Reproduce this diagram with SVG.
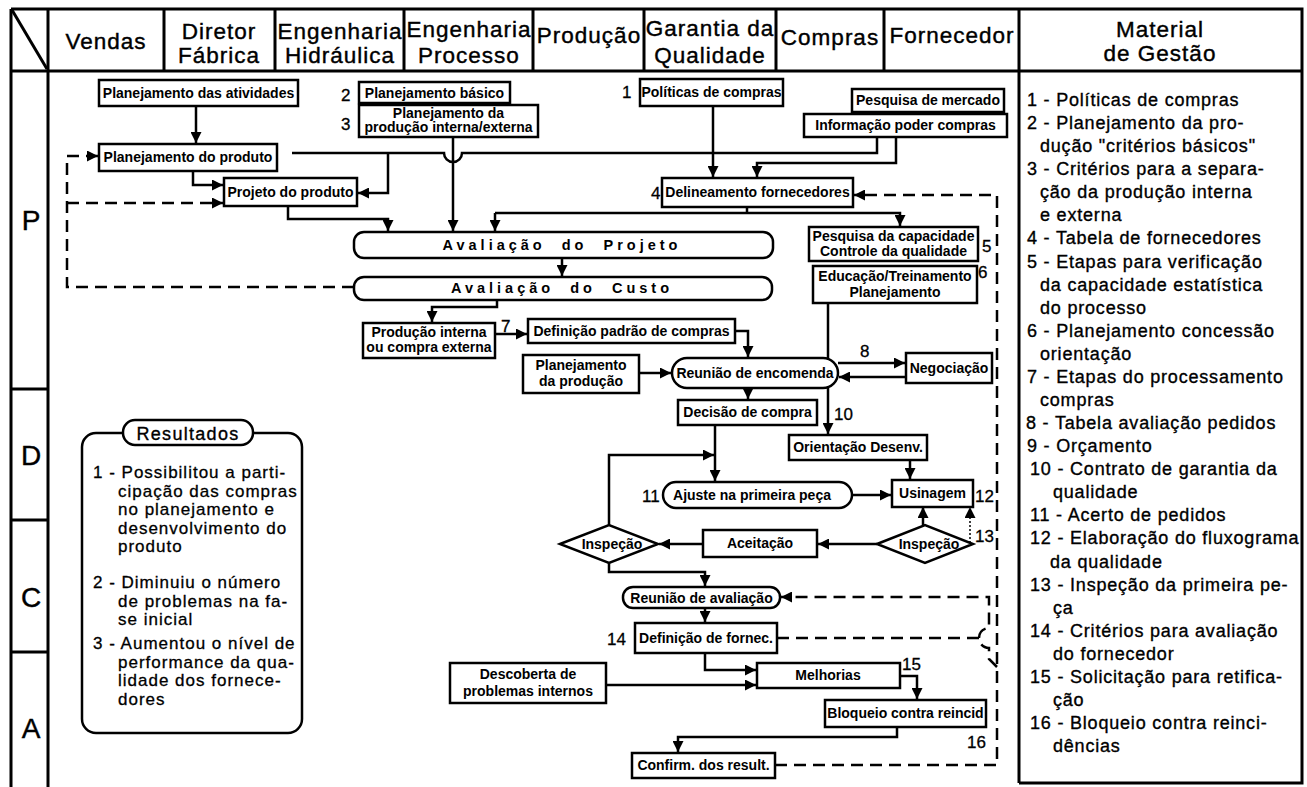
<svg xmlns="http://www.w3.org/2000/svg" width="1307" height="787" viewBox="0 0 1307 787">
  <style>
    text { font-family: "Liberation Sans", Arial, sans-serif; fill: #000; }
    .frame { fill: none; stroke: #000; stroke-width: 3; }
    .box { fill: #fff; stroke: #000; stroke-width: 2.5; }
    .ln { fill: none; stroke: #000; stroke-width: 2.5; }
    .dash { stroke-dasharray: 12 7; }
    .thin { stroke-width: 1.5; stroke-dasharray: 2 2; }
    .lbl { font-weight: bold; font-size: 14px; text-anchor: middle; }
    .wide { font-weight: bold; font-size: 14.5px; text-anchor: middle; letter-spacing: 4px; word-spacing: 8px; }
    .hdr { font-size: 22.5px; letter-spacing: 1px; text-anchor: middle; stroke: #000; stroke-width: 0.4px; }
    .pdca { font-size: 28px; text-anchor: middle; stroke: #000; stroke-width: 0.4px; }
    .num { font-size: 17px; stroke: #000; stroke-width: 0.3px; }
    .lst { font-size: 18px; letter-spacing: 0.8px; stroke: #000; stroke-width: 0.35px; }
    .res { font-size: 17px; letter-spacing: 1px; stroke: #000; stroke-width: 0.3px; }
  </style>
  <defs>
    <marker id="ah" viewBox="0 0 10 10" refX="10" refY="5" markerWidth="11" markerHeight="11" markerUnits="userSpaceOnUse" orient="auto">
      <path d="M0,0 L10,5 L0,10 z" fill="#000"/>
    </marker>
  </defs>

  <rect width="1307" height="787" fill="#fff"/>

  <!-- table frame -->
  <g id="frame">
    <path class="frame" d="M11 9 H1302 V783 H1019 M11 9 V787 M48 9 V787 M1019 9 V783 M11 71 H1302"/>
    <path class="frame" d="M164 9 V71 M275 9 V71 M404 9 V71 M533 9 V71 M644 9 V71 M776 9 V71 M884 9 V71"/>
    <path class="frame" d="M12 10 L47 69"/>
    <path class="frame" d="M11 389 H48 M11 520 H48 M11 652 H48"/>
  </g>

  <!-- column headers -->
  <g id="headers">
    <text class="hdr" x="106" y="49">Vendas</text>
    <text class="hdr" x="219" y="39">Diretor</text>
    <text class="hdr" x="219" y="63">Fábrica</text>
    <text class="hdr" x="340" y="39">Engenharia</text>
    <text class="hdr" x="340" y="63">Hidráulica</text>
    <text class="hdr" x="469" y="37">Engenharia</text>
    <text class="hdr" x="469" y="63">Processo</text>
    <text class="hdr" x="589" y="43">Produção</text>
    <text class="hdr" x="710" y="36">Garantia da</text>
    <text class="hdr" x="710" y="63">Qualidade</text>
    <text class="hdr" x="830" y="45">Compras</text>
    <text class="hdr" x="952" y="43">Fornecedor</text>
    <text class="hdr" x="1160" y="37">Material</text>
    <text class="hdr" x="1160" y="61">de Gestão</text>
  </g>

  <!-- PDCA row labels -->
  <g id="pdca">
    <text class="pdca" x="31" y="230">P</text>
    <text class="pdca" x="31" y="465">D</text>
    <text class="pdca" x="31" y="607">C</text>
    <text class="pdca" x="31" y="738">A</text>
  </g>

  <!-- connectors -->
  <g id="connectors">
    <path class="ln" marker-end="url(#ah)" d="M196 106 V143"/>
    <path class="ln" marker-end="url(#ah)" d="M193 171 V185 H223"/>
    <path class="ln" d="M877 137 V153 H462 A9 9 0 0 1 444 153 H292"/>
    <path class="ln" marker-end="url(#ah)" d="M388 153 V193 H358"/>
    <path class="ln" marker-end="url(#ah)" d="M896 137 V163 H757 V177"/>
    <path class="ln" marker-end="url(#ah)" d="M713 106 V177"/>
    <path class="ln" marker-end="url(#ah)" d="M453 137 V231"/>
    <path class="ln" marker-end="url(#ah)" d="M288 206 V219 H388 V231"/>
    <path class="ln" d="M747 207 V213"/>
    <path class="ln" marker-end="url(#ah)" d="M495 213 H900 V226"/>
    <path class="ln" marker-end="url(#ah)" d="M495 213 V231"/>
    <path class="ln" marker-end="url(#ah)" d="M562 258 V276"/>
    <path class="ln" marker-end="url(#ah)" d="M497 300 V307 H432 V322"/>
    <path class="ln" marker-end="url(#ah)" d="M495 334 H527"/>
    <path class="ln" marker-end="url(#ah)" d="M735 331 H748 V357"/>
    <path class="ln" marker-end="url(#ah)" d="M639 373 H671"/>
    <path class="ln" marker-end="url(#ah)" d="M838 363 H905"/>
    <path class="ln" marker-end="url(#ah)" d="M906 377 H839"/>
    <path class="ln" d="M828 303 V358"/>
    <path class="ln" marker-end="url(#ah)" d="M828 388 V434"/>
    <path class="ln" marker-end="url(#ah)" d="M748 388 V399"/>
    <path class="ln" marker-end="url(#ah)" d="M715 425 V481"/>
    <path class="ln" marker-end="url(#ah)" d="M609 525 V455 H714"/>
    <path class="ln" marker-end="url(#ah)" d="M852 495 H891"/>
    <path class="ln" marker-end="url(#ah)" d="M910 460 V479"/>
    <path class="ln" marker-end="url(#ah)" d="M923 525 V507"/>
    <path class="ln thin" marker-end="url(#ah)" d="M970 543 V507"/>
    <path class="ln" marker-end="url(#ah)" d="M877 544 H818"/>
    <path class="ln" marker-end="url(#ah)" d="M703 544 H659"/>
    <path class="ln" marker-end="url(#ah)" d="M609 563 V572 H705 V586"/>
    <path class="ln" marker-end="url(#ah)" d="M705 608 V622"/>
    <path class="ln" marker-end="url(#ah)" d="M705 653 V670 H756"/>
    <path class="ln" marker-end="url(#ah)" d="M606 685 H756"/>
    <path class="ln" marker-end="url(#ah)" d="M900 676 H917 V699"/>
    <path class="ln" marker-end="url(#ah)" d="M897 727 V737 H678 V752"/>
    <!-- feedback loops -->
    <path class="ln dash" marker-end="url(#ah)" d="M354 287 H67 V156 H98"/>
    <path class="ln dash" marker-end="url(#ah)" d="M67 203 H223"/>
    <path class="ln dash" marker-end="url(#ah)" d="M775 765 H997 V195 H854"/>
    <path class="ln dash" d="M777 638 H979"/>
    <path class="ln dash" marker-end="url(#ah)" d="M997 667 L989 659 V648 A10 10 0 0 1 989 628 V597 H781"/>
  </g>

  <!-- step numbers -->
  <g id="step-numbers" class="num">
    <text x="341" y="101">2</text>
    <text x="341" y="130">3</text>
    <text x="622" y="98">1</text>
    <text x="651" y="199">4</text>
    <text x="982" y="252">5</text>
    <text x="978" y="278">6</text>
    <text x="501" y="332">7</text>
    <text x="860" y="357">8</text>
    <text x="834" y="420">10</text>
    <text x="642" y="502">11</text>
    <text x="975" y="502">12</text>
    <text x="975" y="542">13</text>
    <text x="607" y="645">14</text>
    <text x="902" y="670">15</text>
    <text x="967" y="748">16</text>
  </g>

  <!-- process nodes -->
  <g id="n-plan-atividades"><rect class="box" x="99" y="80" width="199" height="26"/><text class="lbl" x="198.5" y="98">Planejamento das atividades</text></g>
  <g id="n-plan-basico"><rect class="box" x="359" y="82" width="151" height="21"/><text class="lbl" x="434.5" y="97.5">Planejamento básico</text></g>
  <g id="n-plan-interna"><rect class="box" x="359" y="105" width="179" height="32"/><text class="lbl" x="448.5" y="118">Planejamento da</text><text class="lbl" x="448.5" y="132">produção interna/externa</text></g>
  <g id="n-politicas"><rect class="box" x="640" y="79" width="143" height="27"/><text class="lbl" x="711.5" y="97">Políticas de compras</text></g>
  <g id="n-pesquisa-mercado"><rect class="box" x="852" y="89" width="152" height="23"/><text class="lbl" x="928" y="105">Pesquisa de mercado</text></g>
  <g id="n-informacao"><rect class="box" x="804" y="114" width="203" height="23"/><text class="lbl" x="905.5" y="130">Informação poder compras</text></g>
  <g id="n-plan-produto"><rect class="box" x="99" y="144" width="178" height="27"/><text class="lbl" x="188" y="162">Planejamento do produto</text></g>
  <g id="n-projeto"><rect class="box" x="224" y="178" width="133" height="28"/><text class="lbl" x="290.5" y="197">Projeto do produto</text></g>
  <g id="n-delineamento"><rect class="box" x="662" y="178" width="191" height="29"/><text class="lbl" x="757.5" y="197">Delineamento fornecedores</text></g>
  <g id="n-aval-projeto"><rect class="box" x="354" y="232" width="419" height="26" rx="10"/><text class="wide" x="562" y="250">Avaliação do Projeto</text></g>
  <g id="n-aval-custo"><rect class="box" x="354" y="277" width="418" height="23" rx="10"/><text class="wide" x="562" y="293">Avaliação do Custo</text></g>
  <g id="n-capacidade"><rect class="box" x="809" y="227" width="169" height="34"/><text class="lbl" x="893.5" y="241">Pesquisa da capacidade</text><text class="lbl" x="893.5" y="256">Controle da qualidade</text></g>
  <g id="n-educacao"><rect class="box" x="813" y="266" width="164" height="37"/><text class="lbl" x="895" y="281">Educação/Treinamento</text><text class="lbl" x="895" y="297">Planejamento</text></g>
  <g id="n-producao-interna"><rect class="box" x="363" y="323" width="132" height="35"/><text class="lbl" x="429" y="337">Produção interna</text><text class="lbl" x="429" y="352">ou compra externa</text></g>
  <g id="n-definicao-padrao"><rect class="box" x="528" y="319" width="207" height="24"/><text class="lbl" x="631.5" y="336">Definição padrão de compras</text></g>
  <g id="n-plan-producao"><rect class="box" x="523" y="355" width="116" height="38"/><text class="lbl" x="581" y="370">Planejamento</text><text class="lbl" x="581" y="386">da produção</text></g>
  <g id="n-reuniao-encomenda"><rect class="box" x="672" y="358" width="166" height="30" rx="15"/><text class="lbl" x="755" y="378">Reunião de encomenda</text></g>
  <g id="n-negociacao"><rect class="box" x="906" y="353" width="86" height="30"/><text class="lbl" x="949" y="373">Negociação</text></g>
  <g id="n-decisao"><rect class="box" x="678" y="400" width="139" height="25"/><text class="lbl" x="747.5" y="417">Decisão de compra</text></g>
  <g id="n-orientacao"><rect class="box" x="789" y="435" width="138" height="25"/><text class="lbl" x="858" y="452">Orientação Desenv.</text></g>
  <g id="n-ajuste"><rect class="box" x="663" y="482" width="189" height="26" rx="13"/><text class="lbl" x="752" y="500">Ajuste na primeira peça</text></g>
  <g id="n-usinagem"><rect class="box" x="892" y="480" width="81" height="27"/><text class="lbl" x="932.5" y="498">Usinagem</text></g>
  <g id="n-inspecao-1"><polygon class="box" points="560,544 609,525 658,544 609,563"/><text class="lbl" x="612" y="549">Inspeção</text></g>
  <g id="n-aceitacao"><rect class="box" x="703" y="530" width="114" height="27"/><text class="lbl" x="760" y="548">Aceitação</text></g>
  <g id="n-inspecao-2"><polygon class="box" points="877,544 925,525 973,544 925,563"/><text class="lbl" x="929" y="549">Inspeção</text></g>
  <g id="n-reuniao-avaliacao"><rect class="box" x="623" y="587" width="157" height="21" rx="10"/><text class="lbl" x="701.5" y="602.5">Reunião de avaliação</text></g>
  <g id="n-definicao-fornec"><rect class="box" x="635" y="623" width="142" height="30"/><text class="lbl" x="706" y="643">Definição de fornec.</text></g>
  <g id="n-descoberta"><rect class="box" x="450" y="663" width="156" height="40"/><text class="lbl" x="528" y="679">Descoberta de</text><text class="lbl" x="528" y="696">problemas internos</text></g>
  <g id="n-melhorias"><rect class="box" x="757" y="663" width="143" height="25"/><text class="lbl" x="828" y="680">Melhorias</text></g>
  <g id="n-bloqueio"><rect class="box" x="825" y="700" width="161" height="27"/><text class="lbl" x="905.5" y="718">Bloqueio contra reincid</text></g>
  <g id="n-confirm"><rect class="box" x="632" y="753" width="143" height="25"/><text class="lbl" x="703.5" y="770">Confirm. dos result.</text></g>

  <!-- results panel -->
  <g id="resultados">
    <rect class="box" x="82" y="433" width="220" height="300" rx="14"/>
    <rect class="box" x="123" y="420" width="130" height="25" rx="12"/>
    <text x="188" y="440" style="font-size:18px;letter-spacing:1.3px;text-anchor:middle;stroke:#000;stroke-width:0.35px">Resultados</text>
    <text class="res" x="93" y="478">1 - Possibilitou a parti-</text>
    <text class="res" x="118" y="496.5">cipação das compras</text>
    <text class="res" x="118" y="515">no planejamento e</text>
    <text class="res" x="118" y="533.5">desenvolvimento do</text>
    <text class="res" x="118" y="552">produto</text>
    <text class="res" x="93" y="588">2 - Diminuiu o número</text>
    <text class="res" x="118" y="606.5">de problemas na fa-</text>
    <text class="res" x="118" y="625">se inicial</text>
    <text class="res" x="93" y="649">3 - Aumentou o nível de</text>
    <text class="res" x="118" y="667.5">performance da qua-</text>
    <text class="res" x="118" y="686">lidade dos fornece-</text>
    <text class="res" x="118" y="704.5">dores</text>
  </g>

  <!-- management material list -->
  <g id="material-gestao" class="lst">
    <text x="1027" y="106">1 - Políticas de compras</text>
    <text x="1027" y="129">2 - Planejamento da pro-</text>
    <text x="1040" y="152">dução "critérios básicos"</text>
    <text x="1027" y="175">3 - Critérios para a separa-</text>
    <text x="1040" y="198">ção da produção interna</text>
    <text x="1040" y="221">e externa</text>
    <text x="1027" y="244">4 - Tabela de fornecedores</text>
    <text x="1027" y="268">5 - Etapas para verificação</text>
    <text x="1040" y="291">da capacidade estatística</text>
    <text x="1040" y="314">do processo</text>
    <text x="1027" y="337">6 - Planejamento concessão</text>
    <text x="1040" y="360">orientação</text>
    <text x="1027" y="383">7 - Etapas do processamento</text>
    <text x="1040" y="406">compras</text>
    <text x="1026" y="429">8 - Tabela avaliação pedidos</text>
    <text x="1027" y="452">9 - Orçamento</text>
    <text x="1030" y="475">10 - Contrato de garantia da</text>
    <text x="1053" y="498">qualidade</text>
    <text x="1030" y="521">11 - Acerto de pedidos</text>
    <text x="1030" y="544">12 - Elaboração do fluxograma</text>
    <text x="1050" y="568">da qualidade</text>
    <text x="1030" y="591">13 - Inspeção da primeira pe-</text>
    <text x="1053" y="614">ça</text>
    <text x="1030" y="637">14 - Critérios para avaliação</text>
    <text x="1053" y="660">do fornecedor</text>
    <text x="1030" y="683">15 - Solicitação para retifica-</text>
    <text x="1053" y="706">ção</text>
    <text x="1030" y="729">16 - Bloqueio contra reinci-</text>
    <text x="1053" y="752">dências</text>
  </g>
</svg>
